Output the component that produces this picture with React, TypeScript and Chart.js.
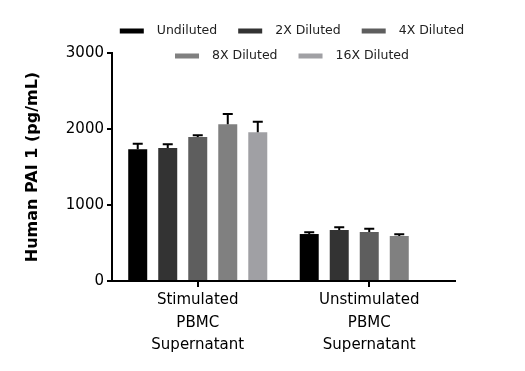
import React, { useEffect, useRef } from "react";
import { Chart, registerables } from "chart.js";

Chart.register(...registerables);

const categories: string[][] = [
  ["Stimulated", "PBMC", "Supernatant"],
  ["Unstimulated", "PBMC", "Supernatant"],
];
const seriesNames = ["Undiluted", "2X Diluted", "4X Diluted", "8X Diluted", "16X Diluted"];
const seriesColors = ["#000000", "#333333", "#5e5e5e", "#808080", "#a0a0a4"];

const undiluted = [1735, 618];
const diluted2x = [1750, 671];
const diluted4x = [1895, 645];
const diluted8x = [2062, 592];
const diluted16x = [1956, null];

const errUndiluted = [72, 22];
const errDiluted2x = [48, 35];
const errDiluted4x = [22, 43];
const errDiluted8x = [135, 22];
const errDiluted16x = [140, null];

const yTicks = [0, 1000, 2000, 3000];
const yTitle = "Human PAI 1 (pg/mL)";

const FONT = "'DejaVu Sans', sans-serif";

const errorBarPlugin = {
  id: "errorBars",
  afterDatasetsDraw(chart: any) {
    const ctx = chart.ctx;
    const yScale = chart.scales.y;
    ctx.save();
    ctx.strokeStyle = "#000";
    ctx.lineWidth = 2;
    chart.data.datasets.forEach((ds: any, di: number) => {
      const meta = chart.getDatasetMeta(di);
      meta.data.forEach((bar: any, i: number) => {
        const v = ds.data[i];
        const e = ds.errors[i];
        if (v == null || e == null) return;
        const yTop = yScale.getPixelForValue(v + e);
        const yBase = yScale.getPixelForValue(v);
        ctx.beginPath();
        ctx.moveTo(bar.x, yBase);
        ctx.lineTo(bar.x, yTop);
        ctx.moveTo(bar.x - 5, yTop);
        ctx.lineTo(bar.x + 5, yTop);
        ctx.stroke();
      });
    });
    ctx.restore();
  },
};

const legendPlugin = {
  id: "customLegend",
  afterDraw(chart: any) {
    const ctx = chart.ctx;
    const boxW = 24;
    const boxH = 5;
    const gap = 13;
    const spacing = 21;
    const maxWidth = 360;
    const centerX = 292;
    const rowY = [31, 56];
    ctx.save();
    ctx.font = `12.5px ${FONT}`;
    const items = chart.data.datasets.map((ds: any) => {
      const tw = ctx.measureText(ds.label).width;
      return { label: ds.label, color: ds.backgroundColor, w: boxW + gap + tw };
    });
    const rows: any[][] = [[]];
    let cur = 0;
    items.forEach((it: any) => {
      const row = rows[rows.length - 1];
      const add = (row.length ? spacing : 0) + it.w;
      if (row.length && cur + add > maxWidth) {
        rows.push([it]);
        cur = it.w;
      } else {
        row.push(it);
        cur += add;
      }
    });
    rows.forEach((row, ri) => {
      const total = row.reduce((s: number, it: any, k: number) => s + it.w + (k ? spacing : 0), 0);
      let x = centerX - total / 2;
      const y = rowY[ri] ?? rowY[0] + ri * 25;
      row.forEach((it: any) => {
        ctx.fillStyle = it.color;
        ctx.fillRect(x, y - boxH / 2, boxW, boxH);
        ctx.fillStyle = "#222";
        ctx.textBaseline = "middle";
        ctx.textAlign = "left";
        ctx.fillText(it.label, x + boxW + gap, y);
        x += it.w + spacing;
      });
    });
    ctx.restore();
  },
};

export default function App() {
  const ref = useRef<HTMLCanvasElement | null>(null);
  useEffect(() => {
    if (!ref.current) return;
    Chart.defaults.font.family = FONT;
    const values = [undiluted, diluted2x, diluted4x, diluted8x, diluted16x];
    const errors = [errUndiluted, errDiluted2x, errDiluted4x, errDiluted8x, errDiluted16x];
    const chart = new Chart(ref.current, {
      type: "bar",
      data: {
        labels: categories,
        datasets: seriesNames.map((name, i) => ({
          label: name,
          data: values[i],
          errors: errors[i],
          backgroundColor: seriesColors[i],
          borderWidth: 0,
          barPercentage: 0.633,
          categoryPercentage: 0.875,
        })) as any,
      },
      options: {
        responsive: false,
        animation: false,
        layout: { padding: { top: 53, right: 70, left: 0, bottom: 0 } },
        plugins: {
          legend: { display: false },
          tooltip: { enabled: false },
        },
        scales: {
          x: {
            offset: true,
            grid: {
              offset: false,
              drawOnChartArea: false,
              drawTicks: true,
              tickLength: 6,
              color: "#000",
              lineWidth: 2,
            },
            border: { display: true, color: "#000", width: 2 },
            ticks: {
              color: "#000",
              padding: 2,
              maxRotation: 0,
              autoSkip: false,
              font: { size: 15, lineHeight: 1.5 },
            },
            afterFit: (scale: any) => {
              scale.height = 90;
            },
          },
          y: {
            min: 0,
            max: 3000,
            afterBuildTicks: (scale: any) => {
              scale.ticks = yTicks.map((v) => ({ value: v }));
            },
            grid: {
              drawOnChartArea: false,
              drawTicks: true,
              tickLength: 5,
              color: "#000",
              lineWidth: 2,
            },
            border: { display: true, color: "#000", width: 2 },
            ticks: {
              color: "#000",
              padding: 3,
              font: { size: 15 },
              callback: (v: any) => String(v),
            },
            title: {
              display: true,
              text: yTitle,
              color: "#000",
              font: { size: 16, weight: "bold" },
              padding: { top: 23, bottom: 0 },
            },
            afterFit: (scale: any) => {
              scale.width = 112;
            },
          },
        },
      },
      plugins: [errorBarPlugin, legendPlugin],
    });
    return () => chart.destroy();
  }, []);
  return (
    <div style={{ position: "fixed", left: 0, top: 0, width: 525, height: 371, background: "#fff" }}>
      <canvas ref={ref} width={525} height={371} style={{ display: "block" }} />
    </div>
  );
}
